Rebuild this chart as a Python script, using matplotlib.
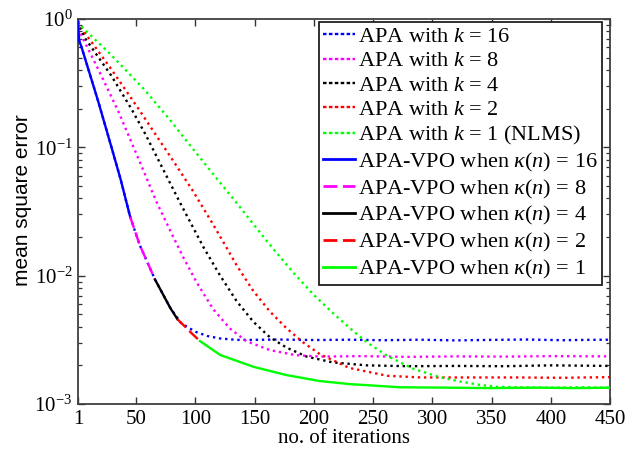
import numpy as np
import matplotlib
matplotlib.use("Agg")
import matplotlib.pyplot as plt
from matplotlib.lines import Line2D

plt.rcParams['font.family'] = ['Liberation Serif', 'DejaVu Serif']
plt.rcParams['mathtext.fontset'] = 'custom'
plt.rcParams['mathtext.rm'] = 'Liberation Serif'
plt.rcParams['mathtext.it'] = 'Liberation Serif:italic'
plt.rcParams['mathtext.bf'] = 'Liberation Serif:bold'

# ---------------- data ----------------
# APA with fixed projection order k (dotted curves)
apa16_iter = [1, 2, 4, 9, 18, 29, 37, 45, 53, 66, 79, 88, 95, 101, 110, 121, 135, 149, 170,
              200, 230, 260, 290, 320, 350, 380, 410, 430, 450]
apa16_mse = [0.955, 0.676, 0.603, 0.427, 0.229, 0.102, 0.0562, 0.0288, 0.0174, 0.00933,
             0.00558, 0.00427, 0.00389, 0.00363, 0.00339, 0.00324, 0.00316, 0.00316, 0.00318,
             0.00315, 0.00317, 0.00314, 0.00317, 0.00313, 0.00316, 0.00318, 0.00314, 0.00316, 0.00317]

apa8_iter = [1, 4, 18, 35, 46, 53, 67, 81, 90, 101, 115, 129, 143, 163, 185, 206, 240, 280,
             320, 360, 400, 450]
apa8_mse = [0.955, 0.741, 0.407, 0.191, 0.11, 0.0776, 0.038, 0.0204, 0.0138, 0.00891,
            0.0055, 0.00389, 0.00309, 0.00263, 0.0024, 0.00234, 0.00236, 0.00233, 0.00235,
            0.00234, 0.00236, 0.00235]

apa4_iter = [1, 7, 29, 46, 58, 70, 87, 107, 121, 135, 149, 163, 177, 194, 216, 245, 280,
             320, 360, 400, 450]
apa4_mse = [0.955, 0.708, 0.363, 0.2, 0.126, 0.0759, 0.0372, 0.0166, 0.01, 0.00631,
            0.00437, 0.00331, 0.00275, 0.00234, 0.00211, 0.002, 0.00197, 0.00198, 0.00197,
            0.002, 0.00198]

apa2_iter = [1, 7, 29, 52, 68, 81, 98, 115, 125, 135, 149, 163, 177, 191, 205, 230, 262,
             290, 330, 370, 410, 450]
apa2_mse = [0.955, 0.776, 0.407, 0.2, 0.12, 0.0794, 0.0457, 0.0251, 0.0174, 0.012,
            0.00759, 0.00525, 0.00389, 0.00302, 0.00245, 0.00191, 0.00166, 0.00161, 0.00161,
            0.00161, 0.0016, 0.00162]

apa1_iter = [1, 4, 29, 57, 80, 91, 110, 138, 162, 183, 200, 216, 233, 245, 262, 284, 306,
             323, 340, 355, 380, 400, 420, 450]
apa1_mse = [0.955, 0.871, 0.525, 0.282, 0.158, 0.117, 0.0708, 0.0339, 0.0178, 0.0105,
            0.00708, 0.00513, 0.00372, 0.00302, 0.00237, 0.00188, 0.00162, 0.0015, 0.00141,
            0.00136, 0.00135, 0.00134, 0.00135, 0.00134]

# APA-VPO: one curve whose colour shows the current order kappa(n)
vpo16_iter = [1, 2, 4, 9, 18, 29, 37, 45]
vpo16_mse = [0.955, 0.676, 0.603, 0.427, 0.229, 0.102, 0.0562, 0.0288]
vpo8_iter = [45, 53, 66]
vpo8_mse = [0.0288, 0.0174, 0.00933]
vpo4_iter = [66, 79, 85]
vpo4_mse = [0.00933, 0.00558, 0.00457]
vpo2_iter = [85, 90, 97, 104]
vpo2_mse = [0.00457, 0.00412, 0.00355, 0.00309]
vpo1_iter = [104, 121, 149, 177, 205, 230, 273, 315, 350, 390, 420, 450]
vpo1_mse = [0.00309, 0.00241, 0.00195, 0.00168, 0.00151, 0.00143, 0.00135, 0.00134,
            0.00133, 0.00134, 0.00133, 0.00134]

apa_labels = [r'APA with $k$ = 16', r'APA with $k$ = 8', r'APA with $k$ = 4',
              r'APA with $k$ = 2', r'APA with $k$ = 1 (NLMS)']
vpo_labels = [r'APA-VPO when $\kappa(n)$ = 16', r'APA-VPO when $\kappa(n)$ = 8',
              r'APA-VPO when $\kappa(n)$ = 4', r'APA-VPO when $\kappa(n)$ = 2',
              r'APA-VPO when $\kappa(n)$ = 1']
colors = ['#0000ff', '#ff00ff', '#000000', '#ff0000', '#00ff00']
vpo_styles = ['-', (0, (5, 2)), '-', (0, (5, 2)), '-']

x_ticks = [1, 50, 100, 150, 200, 250, 300, 350, 400, 450]

# ---------------- plot ----------------
fig = plt.figure(figsize=(6.38, 4.5), dpi=100)
ax = fig.add_axes([78 / 638, 1 - 404 / 450, 532 / 638, 385 / 450])

dot = (0, (1, 1.6))
apa_sets = [(apa16_iter, apa16_mse), (apa8_iter, apa8_mse), (apa4_iter, apa4_mse),
            (apa2_iter, apa2_mse), (apa1_iter, apa1_mse)]
vpo_sets = [(vpo16_iter, vpo16_mse), (vpo8_iter, vpo8_mse), (vpo4_iter, vpo4_mse),
            (vpo2_iter, vpo2_mse), (vpo1_iter, vpo1_mse)]

handles = []
for (xi, yi), c, lab in zip(apa_sets, colors, apa_labels):
    ax.semilogy(xi, yi, color=c, lw=1.7, linestyle=dot, zorder=2)
    handles.append(Line2D([], [], color=c, lw=1.7, linestyle=(0, (1.5, 1)), label=lab))
for (xi, yi), c, ls, lab in zip(vpo_sets, colors, vpo_styles, vpo_labels):
    ax.semilogy(xi, yi, color=c, lw=1.7, linestyle=ls, zorder=3)
    handles.append(Line2D([], [], color=c, lw=2.0, linestyle=ls, label=lab))

ax.set_xlim(1, 450)
ax.set_ylim(1e-3, 1)
ax.set_xticks(x_ticks)
ax.set_xticklabels([str(v) for v in x_ticks])
ax.tick_params(axis='both', which='both', direction='in', top=True, right=True,
               labelsize=15, colors='#333333', labelcolor='black')
ax.tick_params(axis='both', which='major', length=5, width=1.0, pad=4)
ax.tick_params(axis='both', which='minor', length=3, width=0.9)
ax.yaxis.set_minor_locator(matplotlib.ticker.LogLocator(base=10, subs=np.arange(2, 10)))
ax.yaxis.set_minor_formatter(matplotlib.ticker.NullFormatter())
ax.xaxis.set_minor_locator(matplotlib.ticker.NullLocator())
for s in ax.spines.values():
    s.set_color('#404040')
    s.set_linewidth(1.3)

ax.set_xlabel('no. of iterations', fontsize=15, labelpad=0)
ax.set_ylabel('mean square error', fontsize=15, family=['Liberation Sans', 'DejaVu Sans'])
ax.yaxis.set_label_coords(-0.086, 0.53)

leg = ax.legend(handles=handles, loc='upper right', bbox_to_anchor=(0.985, 0.992),
                fontsize=16, frameon=True, fancybox=False, borderaxespad=0,
                handlelength=1.45, handletextpad=0.12, labelspacing=0.17,
                borderpad=0.2)
leg.get_frame().set_edgecolor('#202020')
leg.get_frame().set_linewidth(1.3)
leg.get_frame().set_alpha(1)

fig.savefig('out.png', dpi=100)
